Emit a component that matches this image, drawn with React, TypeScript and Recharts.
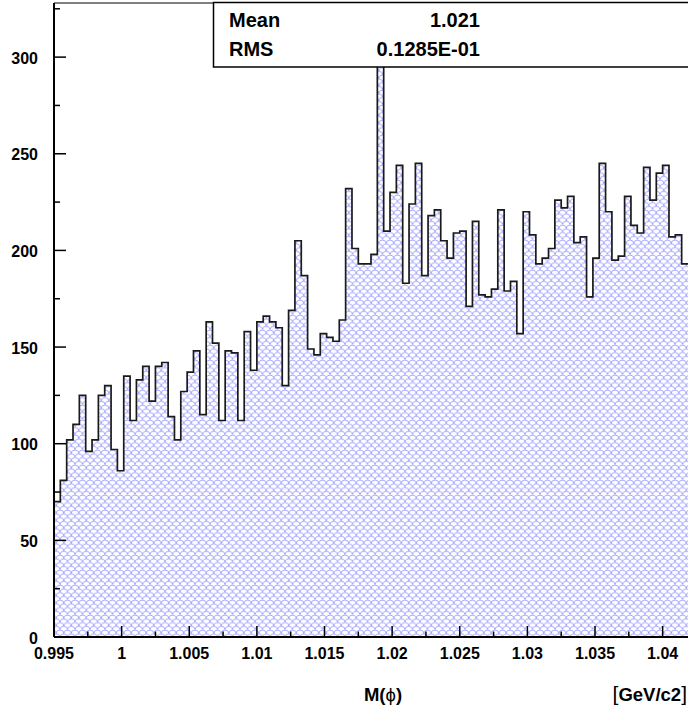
import React from 'react';
import { AreaChart, Area, XAxis, YAxis, ReferenceLine } from 'recharts';

// histogram binning (lower edge of first shown bin + bin width)
const LOW_EDGE = 0.995;
const BIN_WIDTH = 0.00046875;
const Y_MAX = 328;

// entries per bin left to right
const binCounts: number[] = [
  70, 81, 102, 110, 125, 96, 102, 125, 130, 97,
  86, 135, 112, 133, 140, 122, 140, 142, 114, 102,
  127, 137, 148, 115, 163, 152, 112, 148, 147, 112,
  158, 138, 163, 166, 163, 160, 130, 169, 205, 187,
  149, 146, 157, 155, 153, 164, 232, 201, 193, 193,
  198, 312, 210, 230, 244, 183, 224, 245, 187, 218,
  221, 205, 196, 209, 210, 171, 215, 177, 176, 180,
  221, 179, 184, 157, 220, 208, 193, 196, 201, 226,
  222, 228, 204, 207, 176, 196, 245, 220, 195, 197,
  228, 213, 209, 243, 226, 240, 244, 207, 208, 193,
];

const xMajorTicks = [0.995, 1, 1.005, 1.01, 1.015, 1.02, 1.025, 1.03, 1.035, 1.04];
const xMinorTicks = [0.9975, 1.0025, 1.0075, 1.0125, 1.0175, 1.0225, 1.0275, 1.0325, 1.0375];
const yMajorTicks = [0, 50, 100, 150, 200, 250, 300];
const yMinorTicks = [25, 75, 125, 175, 225, 275, 325];

const statsRows = [
  { label: 'Mean', value: '1.021' },
  { label: 'RMS', value: '0.1285E-01' },
];

const FONT = '"Liberation Sans", Arial, Helvetica, sans-serif';

const isOneOf = (v: number, list: number[]) => list.some(t => Math.abs(t - v) < 1e-9);

const XTick = (props: any) => {
  const { x, y, payload } = props;
  const major = isOneOf(payload.value, xMajorTicks);
  return (
    <g>
      <line x1={x} x2={x} y1={y} y2={y - (major ? 11 : 5.5)} stroke="#000" strokeWidth={1.5} />
      {major && (
        <text x={x} y={y + 22} textAnchor="middle" fontFamily={FONT} fontWeight="bold" fontSize={16} fill="#000">
          {String(payload.value)}
        </text>
      )}
    </g>
  );
};

const YTick = (props: any) => {
  const { x, y, payload } = props;
  const major = isOneOf(payload.value, yMajorTicks);
  return (
    <g>
      <line x1={x} x2={x + (major ? 12 : 6)} y1={y} y2={y} stroke="#000" strokeWidth={1.5} />
      {major && (
        <text x={x - 16} y={y + 6.5} textAnchor="end" fontFamily={FONT} fontWeight="bold" fontSize={16} fill="#000">
          {String(payload.value)}
        </text>
      )}
    </g>
  );
};

export default function App() {
  const histData = React.useMemo(() => {
    const pts = binCounts.map((count, i) => ({ x: LOW_EDGE + i * BIN_WIDTH, count }));
    pts.push({ x: LOW_EDGE + binCounts.length * BIN_WIDTH, count: binCounts[binCounts.length - 1] });
    return pts;
  }, []);

  const xTicks = [...xMajorTicks, ...xMinorTicks].sort((a, b) => a - b);
  const yTicks = [...yMajorTicks, ...yMinorTicks].sort((a, b) => a - b);

  return (
    <div style={{ position: 'absolute', left: 0, top: 0, width: 688, height: 711, overflow: 'hidden', background: '#fff' }}>
      <AreaChart width={688} height={711} data={histData} margin={{ top: 3, right: 0, bottom: 0, left: 0 }}>
        <defs>
          <pattern id="scales" patternUnits="userSpaceOnUse" width={7.5} height={7.5}>
            <path
              d="M0,7.5 A3.75,3.75 0 0 1 7.5,7.5 M-3.75,3.75 A3.75,3.75 0 0 1 3.75,3.75 M3.75,3.75 A3.75,3.75 0 0 1 11.25,3.75"
              fill="none"
              stroke="#9090ff"
              strokeWidth={0.75}
            />
          </pattern>
        </defs>
        <Area
          type="stepAfter"
          dataKey="count"
          stroke="#1a1a1a"
          strokeWidth={1.7}
          fill="url(#scales)"
          fillOpacity={1}
          isAnimationActive={false}
          dot={false}
          activeDot={false}
        />
        <ReferenceLine y={Y_MAX} stroke="#000" strokeWidth={1.2} />
        <XAxis
          dataKey="x"
          type="number"
          domain={[LOW_EDGE, LOW_EDGE + binCounts.length * BIN_WIDTH]}
          allowDataOverflow
          ticks={xTicks}
          interval={0}
          height={74}
          tickSize={0}
          tickMargin={0}
          tick={<XTick />}
          axisLine={{ stroke: '#000', strokeWidth: 2 }}
          tickLine={false}
        />
        <YAxis
          type="number"
          domain={[0, Y_MAX]}
          allowDataOverflow
          ticks={yTicks}
          interval={0}
          width={54}
          tickSize={0}
          tickMargin={0}
          tick={<YTick />}
          axisLine={{ stroke: '#000', strokeWidth: 2 }}
          tickLine={false}
        />
      </AreaChart>
      <svg width={688} height={711} style={{ position: 'absolute', left: 0, top: 0, pointerEvents: 'none' }}>
        <rect x={213.5} y={2.5} width={500} height={64.5} fill="#fff" stroke="#000" strokeWidth={1.5} />
        {statsRows.map((row, i) => (
          <g key={row.label} fontFamily={FONT} fontWeight="bold" fontSize={20} fill="#000">
            <text x={229} y={27 + i * 28.5}>{row.label}</text>
            <text x={480} y={27 + i * 28.5} textAnchor="end">{row.value}</text>
          </g>
        ))}
        <text x={383} y={701} textAnchor="middle" fontFamily={FONT} fontWeight="bold" fontSize={18.5} fill="#000">
          M(<tspan fontWeight="normal">ϕ</tspan>)
        </text>
        <text x={687} y={701} textAnchor="end" fontFamily={FONT} fontWeight="bold" fontSize={18.5} fill="#000">
          <tspan fontWeight="normal" fontSize={21}>[</tspan>GeV/c2<tspan fontWeight="normal" fontSize={21}>]</tspan>
        </text>
      </svg>
    </div>
  );
}
